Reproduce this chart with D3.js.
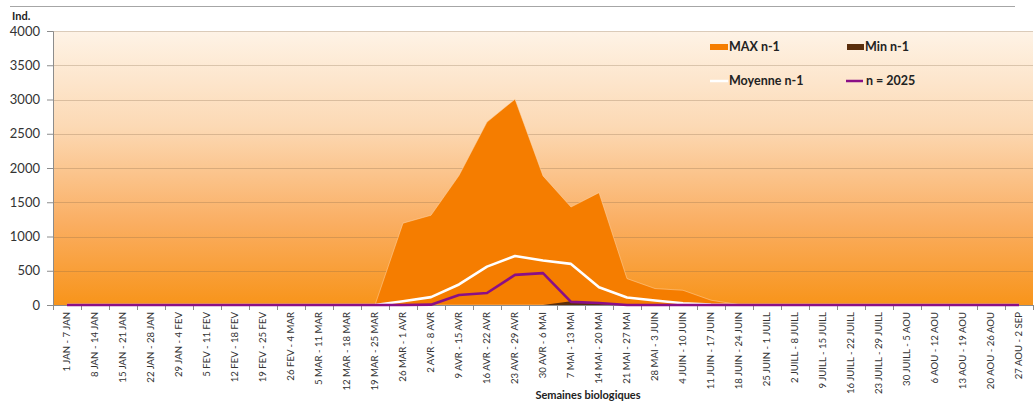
<!DOCTYPE html>
<html><head><meta charset="utf-8">
<script src="https://cdn.jsdelivr.net/npm/d3@7/dist/d3.min.js"></script>
<style>
html,body{margin:0;padding:0;background:#fff;}
svg{display:block;font-family:Lato,"Open Sans",sans-serif;}
</style></head>
<body>
<svg id="c" width="1034" height="403"></svg>
<script>
const categories = ["1 JAN - 7 JAN","8 JAN - 14 JAN","15 JAN - 21 JAN","22 JAN - 28 JAN","29 JAN - 4 FEV","5 FEV - 11 FEV","12 FEV - 18 FEV","19 FEV - 25 FEV","26 FEV - 4 MAR","5 MAR - 11 MAR","12 MAR - 18 MAR","19 MAR - 25 MAR","26 MAR - 1 AVR","2 AVR - 8 AVR","9 AVR - 15 AVR","16 AVR - 22 AVR","23 AVR - 29 AVR","30 AVR - 6 MAI","7 MAI - 13 MAI","14 MAI - 20 MAI","21 MAI - 27 MAI","28 MAI - 3 JUIN","4 JUIN - 10 JUIN","11 JUIN - 17 JUIN","18 JUIN - 24 JUIN","25 JUIN - 1 JUILL","2 JUILL - 8 JUILL","9 JUILL - 15 JUILL","16 JUILL - 22 JUILL","23 JUILL - 29 JUILL","30 JUILL - 5 AOU","6 AOU - 12 AOU","13 AOU - 19 AOU","20 AOU - 26 AOU","27 AOU - 2 SEP"];
const maxN1 = [0,0,0,0,0,0,0,0,0,0,0,0,1195,1310,1890,2670,3005,1885,1430,1640,385,240,215,70,5,0,0,0,0,0,0,0,0,0,0];
const minN1 = [0,0,0,0,0,0,0,0,0,0,0,0,0,0,0,0,0,0,55,15,0,0,0,0,0,0,0,0,0,0,0,0,0,0,0];
const moyN1 = [0,0,0,0,0,0,0,0,0,0,0,0,55,115,300,560,715,650,600,260,110,65,25,5,0,0,0,0,0,0,0,0,0,0,0];
const n2025 = [0,0,0,0,0,0,0,0,0,0,0,0,0,5,145,175,440,465,45,30,0,0,0,0,0,0,0,0,0,0,0,0,0,0,0];
const yTicks = [0,500,1000,1500,2000,2500,3000,3500,4000];
const legendItems = [
  {name:"MAX n-1", key:"max"},
  {name:"Min n-1", key:"min"},
  {name:"Moyenne n-1", key:"moy"},
  {name:"n = 2025", key:"n"}
];

const svg = d3.select("#c");
const L = 53, R = 1033, T = 31, B = 305;
const x = d3.scaleBand().domain(categories).range([L, R]).padding(0);
const y = d3.scaleLinear().domain([0, 4000]).range([B, T]);
const cx = i => x(categories[i]) + x.bandwidth()/2;

// top rule
svg.append("line").attr("x1",10).attr("x2",1015).attr("y1",6.5).attr("y2",6.5)
  .attr("stroke","#a6a6a6").attr("stroke-width",1.2);

// gradient background
const defs = svg.append("defs");
const g = defs.append("linearGradient").attr("id","bg").attr("gradientUnits","userSpaceOnUse")
  .attr("x1",0).attr("x2",0).attr("y1",T).attr("y2",B);
g.append("stop").attr("offset","0%").attr("stop-color","#fef3e6");
g.append("stop").attr("offset","35%").attr("stop-color","#fcd9b4");
g.append("stop").attr("offset","70%").attr("stop-color","#faae62");
g.append("stop").attr("offset","100%").attr("stop-color","#f8941a");
svg.append("rect").attr("x",L).attr("y",T).attr("width",R-L).attr("height",B-T).attr("fill","url(#bg)");

// gridlines
svg.append("g").selectAll("line").data(yTicks.filter(d=>d>0)).join("line")
  .attr("x1",L).attr("x2",R).attr("y1",d=>Math.round(y(d))+0.5).attr("y2",d=>Math.round(y(d))+0.5)
  .attr("stroke","rgba(130,100,70,0.28)").attr("stroke-width",1);

// areas
const area = d3.area().x((d,i)=>cx(i)).y0(y(0)).y1(d=>y(d));
svg.append("path").datum(maxN1).attr("d",area).attr("fill","#f57d00")
  .attr("stroke","rgba(255,220,180,0.6)").attr("stroke-width",0.8);
svg.append("path").datum(minN1).attr("d",area).attr("fill","#5a2e0c");

// lines
const line = d3.line().x((d,i)=>cx(i)).y(d=>y(d));
svg.append("path").datum(moyN1).attr("d",line).attr("fill","none").attr("stroke","#ffffff").attr("stroke-width",2.6).attr("stroke-linejoin","round");

// y axis
const ya = svg.append("g").attr("transform",`translate(${L},0)`)
  .call(d3.axisLeft(y).tickValues(yTicks).tickSize(6).tickPadding(7).tickFormat(d3.format("d")));
ya.select(".domain").attr("stroke","#8c8c8c");
ya.selectAll(".tick line").attr("stroke","#8c8c8c");
ya.selectAll("text").attr("font-size",13).attr("fill","#333").attr("font-family","Lato, sans-serif");

// x axis
const xa = svg.append("g").attr("transform",`translate(0,${B})`)
  .call(d3.axisBottom(x).tickSize(0).tickPadding(0));
xa.select(".domain").attr("stroke","#8c8c8c");
xa.selectAll(".tick text")
  .attr("transform","translate(0,7) rotate(-90)")
  .attr("text-anchor","end").attr("dy","0.35em").attr("x",0).attr("y",0)
  .attr("font-size",9.6).attr("fill","#333").attr("font-family","Lato, sans-serif");
// boundary tick marks
svg.append("g").selectAll("line").data(d3.range(categories.length+1)).join("line")
  .attr("x1",i=>Math.round(L + i*x.bandwidth())+0.5).attr("x2",i=>Math.round(L + i*x.bandwidth())+0.5)
  .attr("y1",B).attr("y2",B+5).attr("stroke","#8c8c8c");

// n = 2025 line, drawn over the axis
svg.append("path").datum(n2025).attr("d",line).attr("fill","none").attr("stroke","#8a0f86").attr("stroke-width",2.6).attr("stroke-linejoin","round");

// titles
svg.append("text").attr("x",12).attr("y",20).attr("font-size",11).attr("font-weight","bold").attr("fill","#222").text("Ind.");
svg.append("text").attr("x",588).attr("y",399).attr("text-anchor","middle").attr("font-size",11).attr("font-weight","bold").attr("fill","#222").text("Semaines biologiques");

// legend
const lg = svg.append("g");
const pos = [{sx:710,tx:729,y:47},{sx:847,tx:865,y:47},{sx:710,tx:729,y:81},{sx:846,tx:866,y:81}];
legendItems.forEach((it,i)=>{
  const p = pos[i];
  if (it.key==="max") lg.append("rect").attr("x",p.sx).attr("y",p.y-3).attr("width",18).attr("height",6).attr("fill","#f57d00");
  if (it.key==="min") lg.append("rect").attr("x",p.sx).attr("y",p.y-3).attr("width",17).attr("height",6).attr("fill","#5a2e0c");
  if (it.key==="moy") lg.append("line").attr("x1",p.sx).attr("x2",p.sx+18).attr("y1",p.y).attr("y2",p.y).attr("stroke","#ffffff").attr("stroke-width",2.5);
  if (it.key==="n") lg.append("line").attr("x1",p.sx).attr("x2",p.sx+17).attr("y1",p.y).attr("y2",p.y).attr("stroke","#8a0f86").attr("stroke-width",2.5);
  lg.append("text").attr("x",p.tx).attr("y",p.y).attr("dy","0.35em").attr("font-size",12.5).attr("font-weight","bold").attr("fill","#222").text(it.name);
});
</script>
</body></html>
